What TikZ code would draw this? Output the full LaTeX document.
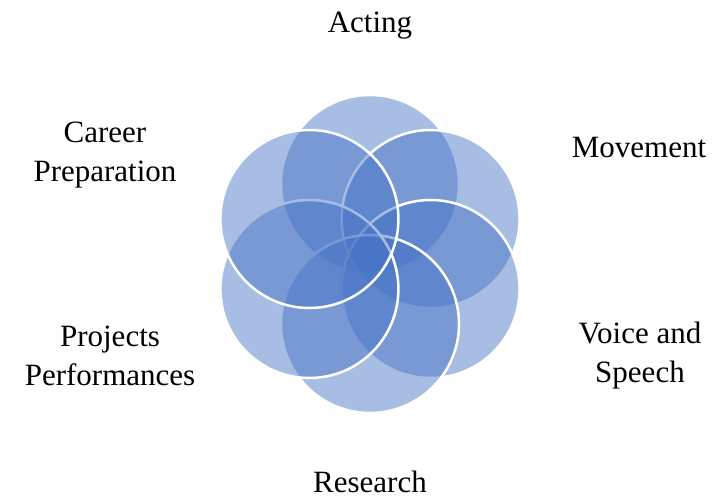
\documentclass[tikz,border=0pt]{standalone}
\usepackage{fontspec}
\setmainfont{Liberation Serif}
\usepackage{tikz}
\definecolor{petalblue}{HTML}{4472C4}
\tikzset{petal/.style={circle, minimum size=178pt, inner sep=0pt,
    fill=petalblue, fill opacity=0.47, draw=white, draw opacity=1, line width=2.5pt},
  lbl/.style={align=center, font=\fontsize{31}{39}\selectfont}}
\begin{document}
\begin{tikzpicture}[x=1pt, y=1pt]
		\useasboundingbox (0,0) rectangle (715,500);
		\node[petal](acting) at (370,316){};
		\node[petal](movement) at (430.6,281){};
		\node[petal](voice) at (430.6,211){};
		\node[petal](research) at (370,176){};
		\node[petal](projects) at (309.4,211){};
		\node[petal](career) at (309.4,281){};
		\node[lbl](actingtxt) at (370,474){Acting};
		\node[lbl](movementtxt) at (639,352){Movement};
		\node[lbl](voicetxt) at (640,144){Voice and\\Speech};
		\node[lbl](researchtxt) at (370,18){Research};
		\node[lbl](projectstxt) at (110,144){Projects\\Performances};
		\node[lbl](careertxt) at (105,345){Career\\Preparation};
	\end{tikzpicture}
\end{document}
